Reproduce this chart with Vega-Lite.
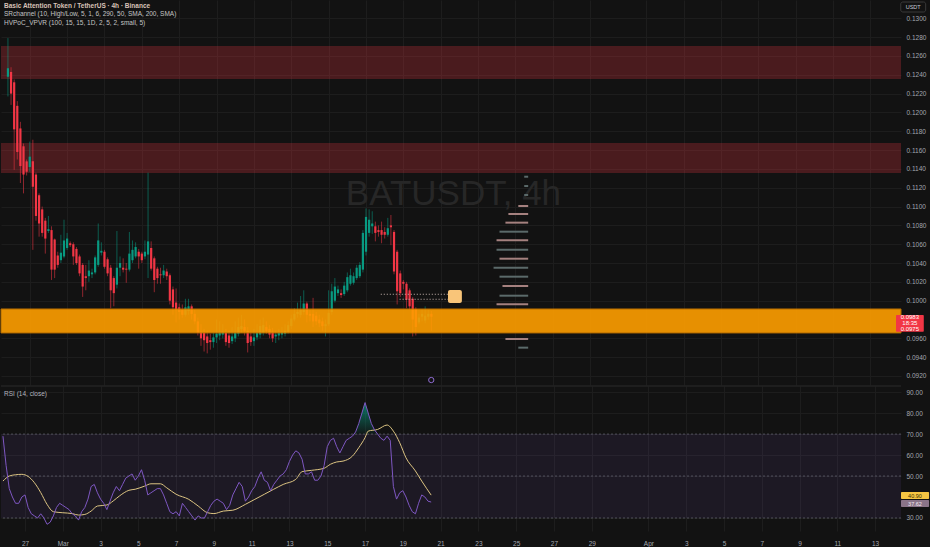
{
  "$schema": "https://vega.github.io/schema/vega-lite/v6.json",
  "background": "#121212",
  "padding": 0,
  "spacing": 0,
  "config": {
    "view": {"stroke": null},
    "axis": {"domain": false, "ticks": false, "tickSize": 0, "gridColor": "#1d1d1d", "gridWidth": 1, "labelColor": "#a3a6af", "labelFont": "Liberation Sans", "labelFontSize": 6.5, "labelOverlap": false, "labelFlush": false}
  },
  "datasets": {
    "candles": [
      {"t":"2025-02-25T20:00:00Z","o":0.1238,"h":0.1279,"l":0.1217,"c":0.1247,"r":69,"m":47.6},
      {"t":"2025-02-26T00:00:00Z","o":0.1243,"h":0.1248,"l":0.1208,"c":0.1220,"r":55},
      {"t":"2025-02-26T04:00:00Z","o":0.1232,"h":0.1235,"l":0.1139,"c":0.1182,"r":44,"m":50.0},
      {"t":"2025-02-26T08:00:00Z","o":0.1207,"h":0.1212,"l":0.1150,"c":0.1158,"r":40},
      {"t":"2025-02-26T12:00:00Z","o":0.1183,"h":0.1190,"l":0.1125,"c":0.1143,"r":37,"m":50.6},
      {"t":"2025-02-26T16:00:00Z","o":0.1164,"h":0.1167,"l":0.1114,"c":0.1134,"r":37},
      {"t":"2025-02-26T20:00:00Z","o":0.1148,"h":0.1150,"l":0.1133,"c":0.1137,"r":40,"m":50.8},
      {"t":"2025-02-27T00:00:00Z","o":0.1142,"h":0.1169,"l":0.1137,"c":0.1153,"r":41},
      {"t":"2025-02-27T04:00:00Z","o":0.1148,"h":0.1171,"l":0.1054,"c":0.1121,"r":35,"m":49.8},
      {"t":"2025-02-27T08:00:00Z","o":0.1134,"h":0.1136,"l":0.1085,"c":0.1090,"r":32},
      {"t":"2025-02-27T12:00:00Z","o":0.1112,"h":0.1114,"l":0.1068,"c":0.1082,"r":31,"m":46.8},
      {"t":"2025-02-27T16:00:00Z","o":0.1097,"h":0.1100,"l":0.1068,"c":0.1072,"r":30},
      {"t":"2025-02-27T20:00:00Z","o":0.1085,"h":0.1088,"l":0.1050,"c":0.1066,"r":32,"m":42.1},
      {"t":"2025-02-28T00:00:00Z","o":0.1074,"h":0.1090,"l":0.1072,"c":0.1076,"r":30},
      {"t":"2025-02-28T04:00:00Z","o":0.1075,"h":0.1079,"l":0.1022,"c":0.1033,"r":27,"m":36.5},
      {"t":"2025-02-28T08:00:00Z","o":0.1065,"h":0.1066,"l":0.1024,"c":0.1033,"r":28},
      {"t":"2025-02-28T12:00:00Z","o":0.1048,"h":0.1052,"l":0.1035,"c":0.1038,"r":31,"m":33.0},
      {"t":"2025-02-28T16:00:00Z","o":0.1043,"h":0.1070,"l":0.1040,"c":0.1051,"r":35},
      {"t":"2025-02-28T20:00:00Z","o":0.1047,"h":0.1086,"l":0.1045,"c":0.1064,"r":37},
      {"t":"2025-03-01T00:00:00Z","o":0.1056,"h":0.1072,"l":0.1054,"c":0.1066,"r":36,"m":32.5},
      {"t":"2025-03-01T04:00:00Z","o":0.1061,"h":0.1063,"l":0.1057,"c":0.1059,"r":35},
      {"t":"2025-03-01T08:00:00Z","o":0.1060,"h":0.1062,"l":0.1038,"c":0.1047,"r":34},
      {"t":"2025-03-01T12:00:00Z","o":0.1055,"h":0.1057,"l":0.1038,"c":0.1040,"r":32,"m":32.1},
      {"t":"2025-03-01T16:00:00Z","o":0.1047,"h":0.1049,"l":0.1026,"c":0.1029,"r":31},
      {"t":"2025-03-01T20:00:00Z","o":0.1038,"h":0.1040,"l":0.1004,"c":0.1015,"r":29,"m":31.4},
      {"t":"2025-03-02T00:00:00Z","o":0.1026,"h":0.1038,"l":0.1011,"c":0.1024,"r":33},
      {"t":"2025-03-02T04:00:00Z","o":0.1026,"h":0.1043,"l":0.1020,"c":0.1032,"r":35,"m":31.7},
      {"t":"2025-03-02T08:00:00Z","o":0.1028,"h":0.1034,"l":0.1024,"c":0.1030,"r":39},
      {"t":"2025-03-02T12:00:00Z","o":0.1030,"h":0.1048,"l":0.1028,"c":0.1046,"r":45,"m":33.3},
      {"t":"2025-03-02T16:00:00Z","o":0.1038,"h":0.1082,"l":0.1036,"c":0.1064,"r":46},
      {"t":"2025-03-02T20:00:00Z","o":0.1051,"h":0.1062,"l":0.1048,"c":0.1053,"r":42,"m":35.7},
      {"t":"2025-03-03T00:00:00Z","o":0.1052,"h":0.1054,"l":0.1034,"c":0.1036,"r":39},
      {"t":"2025-03-03T04:00:00Z","o":0.1044,"h":0.1046,"l":0.1026,"c":0.1029,"r":37},
      {"t":"2025-03-03T08:00:00Z","o":0.1035,"h":0.1038,"l":0.0992,"c":0.1011,"r":34,"m":36.2},
      {"t":"2025-03-03T12:00:00Z","o":0.1024,"h":0.1026,"l":0.0994,"c":0.1008,"r":38},
      {"t":"2025-03-03T16:00:00Z","o":0.1017,"h":0.1074,"l":0.1013,"c":0.1035,"r":42,"m":38.1},
      {"t":"2025-03-03T20:00:00Z","o":0.1035,"h":0.1047,"l":0.1026,"c":0.1040,"r":45},
      {"t":"2025-03-04T00:00:00Z","o":0.1035,"h":0.1045,"l":0.1030,"c":0.1033,"r":43,"m":40.5},
      {"t":"2025-03-04T04:00:00Z","o":0.1034,"h":0.1040,"l":0.1019,"c":0.1033,"r":46},
      {"t":"2025-03-04T08:00:00Z","o":0.1033,"h":0.1073,"l":0.1031,"c":0.1050,"r":49},
      {"t":"2025-03-04T12:00:00Z","o":0.1043,"h":0.1064,"l":0.1040,"c":0.1054,"r":50,"m":43.2},
      {"t":"2025-03-04T16:00:00Z","o":0.1047,"h":0.1062,"l":0.1045,"c":0.1057,"r":51},
      {"t":"2025-03-04T20:00:00Z","o":0.1052,"h":0.1055,"l":0.1034,"c":0.1047,"r":48,"m":43.7},
      {"t":"2025-03-05T00:00:00Z","o":0.1050,"h":0.1052,"l":0.1040,"c":0.1043,"r":50},
      {"t":"2025-03-05T04:00:00Z","o":0.1047,"h":0.1064,"l":0.1044,"c":0.1052,"r":53},
      {"t":"2025-03-05T08:00:00Z","o":0.1049,"h":0.1136,"l":0.1024,"c":0.1063,"r":48,"m":45.2},
      {"t":"2025-03-05T12:00:00Z","o":0.1056,"h":0.1063,"l":0.1032,"c":0.1034,"r":41},
      {"t":"2025-03-05T16:00:00Z","o":0.1045,"h":0.1047,"l":0.1009,"c":0.1022,"r":42,"m":46.3},
      {"t":"2025-03-05T20:00:00Z","o":0.1034,"h":0.1036,"l":0.1018,"c":0.1024,"r":43},
      {"t":"2025-03-06T00:00:00Z","o":0.1028,"h":0.1035,"l":0.1018,"c":0.1027,"r":44},
      {"t":"2025-03-06T04:00:00Z","o":0.1027,"h":0.1038,"l":0.1024,"c":0.1032,"r":44,"m":46.3},
      {"t":"2025-03-06T08:00:00Z","o":0.1031,"h":0.1034,"l":0.1022,"c":0.1026,"r":41},
      {"t":"2025-03-06T12:00:00Z","o":0.1027,"h":0.1029,"l":0.0996,"c":0.1000,"r":37,"m":44.4},
      {"t":"2025-03-06T16:00:00Z","o":0.1012,"h":0.1015,"l":0.0985,"c":0.0993,"r":33},
      {"t":"2025-03-06T20:00:00Z","o":0.0998,"h":0.1013,"l":0.0977,"c":0.0990,"r":32},
      {"t":"2025-03-07T00:00:00Z","o":0.0993,"h":0.0997,"l":0.0980,"c":0.0988,"r":33,"m":41.3},
      {"t":"2025-03-07T04:00:00Z","o":0.0990,"h":0.0996,"l":0.0982,"c":0.0985,"r":31},
      {"t":"2025-03-07T08:00:00Z","o":0.0985,"h":0.1002,"l":0.0983,"c":0.0993,"r":37},
      {"t":"2025-03-07T12:00:00Z","o":0.0989,"h":0.1002,"l":0.0985,"c":0.0994,"r":35},
      {"t":"2025-03-07T16:00:00Z","o":0.0994,"h":0.0996,"l":0.0980,"c":0.0986,"r":33,"m":38.9},
      {"t":"2025-03-07T20:00:00Z","o":0.0986,"h":0.0990,"l":0.0975,"c":0.0978,"r":31},
      {"t":"2025-03-08T00:00:00Z","o":0.0978,"h":0.0982,"l":0.0963,"c":0.0966,"r":29},
      {"t":"2025-03-08T04:00:00Z","o":0.0967,"h":0.0975,"l":0.0952,"c":0.0960,"r":31,"m":35.7},
      {"t":"2025-03-08T08:00:00Z","o":0.0966,"h":0.0970,"l":0.0946,"c":0.0958,"r":30},
      {"t":"2025-03-08T12:00:00Z","o":0.0962,"h":0.0968,"l":0.0944,"c":0.0955,"r":30},
      {"t":"2025-03-08T16:00:00Z","o":0.0958,"h":0.0965,"l":0.0948,"c":0.0956,"r":33,"m":32.5},
      {"t":"2025-03-08T20:00:00Z","o":0.0956,"h":0.0966,"l":0.0950,"c":0.0961,"r":36},
      {"t":"2025-03-09T00:00:00Z","o":0.0961,"h":0.0980,"l":0.0955,"c":0.0965,"r":38,"m":32.1},
      {"t":"2025-03-09T04:00:00Z","o":0.0963,"h":0.0978,"l":0.0958,"c":0.0966,"r":39},
      {"t":"2025-03-09T08:00:00Z","o":0.0964,"h":0.0975,"l":0.0960,"c":0.0967,"r":38},
      {"t":"2025-03-09T12:00:00Z","o":0.0966,"h":0.0970,"l":0.0952,"c":0.0956,"r":37,"m":33.3},
      {"t":"2025-03-09T16:00:00Z","o":0.0963,"h":0.0968,"l":0.0950,"c":0.0955,"r":34},
      {"t":"2025-03-09T20:00:00Z","o":0.0957,"h":0.0972,"l":0.0954,"c":0.0962,"r":36},
      {"t":"2025-03-10T00:00:00Z","o":0.0960,"h":0.0978,"l":0.0956,"c":0.0966,"r":41,"m":33.7},
      {"t":"2025-03-10T04:00:00Z","o":0.0965,"h":0.0982,"l":0.0962,"c":0.0972,"r":44},
      {"t":"2025-03-10T08:00:00Z","o":0.0970,"h":0.0985,"l":0.0966,"c":0.0973,"r":47},
      {"t":"2025-03-10T12:00:00Z","o":0.0972,"h":0.0980,"l":0.0963,"c":0.0968,"r":45},
      {"t":"2025-03-10T16:00:00Z","o":0.0968,"h":0.0972,"l":0.0945,"c":0.0955,"r":38,"m":36.5},
      {"t":"2025-03-10T20:00:00Z","o":0.0962,"h":0.0966,"l":0.0952,"c":0.0956,"r":40},
      {"t":"2025-03-11T00:00:00Z","o":0.0957,"h":0.0970,"l":0.0952,"c":0.0961,"r":43},
      {"t":"2025-03-11T04:00:00Z","o":0.0961,"h":0.0975,"l":0.0958,"c":0.0966,"r":45,"m":38.9},
      {"t":"2025-03-11T08:00:00Z","o":0.0964,"h":0.0980,"l":0.0960,"c":0.0973,"r":49},
      {"t":"2025-03-11T12:00:00Z","o":0.0966,"h":0.0982,"l":0.0963,"c":0.0974,"r":52},
      {"t":"2025-03-11T16:00:00Z","o":0.0972,"h":0.0978,"l":0.0965,"c":0.0968,"r":48,"m":41.3},
      {"t":"2025-03-11T20:00:00Z","o":0.0970,"h":0.0974,"l":0.0960,"c":0.0964,"r":47},
      {"t":"2025-03-12T00:00:00Z","o":0.0967,"h":0.0971,"l":0.0956,"c":0.0960,"r":43},
      {"t":"2025-03-12T04:00:00Z","o":0.0962,"h":0.0968,"l":0.0955,"c":0.0964,"r":46,"m":43.7},
      {"t":"2025-03-12T08:00:00Z","o":0.0963,"h":0.0970,"l":0.0958,"c":0.0966,"r":48},
      {"t":"2025-03-12T12:00:00Z","o":0.0964,"h":0.0972,"l":0.0960,"c":0.0967,"r":50},
      {"t":"2025-03-12T16:00:00Z","o":0.0965,"h":0.0975,"l":0.0962,"c":0.0968,"r":51,"m":46.0},
      {"t":"2025-03-12T20:00:00Z","o":0.0967,"h":0.0978,"l":0.0965,"c":0.0974,"r":53},
      {"t":"2025-03-13T00:00:00Z","o":0.0973,"h":0.0985,"l":0.0970,"c":0.0981,"r":57},
      {"t":"2025-03-13T04:00:00Z","o":0.0980,"h":0.0992,"l":0.0978,"c":0.0986,"r":60},
      {"t":"2025-03-13T08:00:00Z","o":0.0986,"h":0.0998,"l":0.0982,"c":0.0988,"r":62,"m":48.4},
      {"t":"2025-03-13T12:00:00Z","o":0.0985,"h":0.1005,"l":0.0982,"c":0.0990,"r":61},
      {"t":"2025-03-13T16:00:00Z","o":0.0988,"h":0.1011,"l":0.0985,"c":0.0997,"r":58,"m":52.1},
      {"t":"2025-03-13T20:00:00Z","o":0.0997,"h":0.0999,"l":0.0977,"c":0.0985,"r":51},
      {"t":"2025-03-14T00:00:00Z","o":0.0986,"h":0.0990,"l":0.0978,"c":0.0984,"r":51},
      {"t":"2025-03-14T04:00:00Z","o":0.0986,"h":0.1003,"l":0.0972,"c":0.0978,"r":52,"m":52.7},
      {"t":"2025-03-14T08:00:00Z","o":0.0984,"h":0.0988,"l":0.0974,"c":0.0978,"r":48},
      {"t":"2025-03-14T12:00:00Z","o":0.0980,"h":0.0985,"l":0.0972,"c":0.0976,"r":48},
      {"t":"2025-03-14T16:00:00Z","o":0.0978,"h":0.0982,"l":0.0968,"c":0.0973,"r":50},
      {"t":"2025-03-14T20:00:00Z","o":0.0973,"h":0.0980,"l":0.0962,"c":0.0975,"r":55,"m":53.7},
      {"t":"2025-03-15T00:00:00Z","o":0.0975,"h":0.1011,"l":0.0973,"c":0.0987,"r":64},
      {"t":"2025-03-15T04:00:00Z","o":0.0988,"h":0.1018,"l":0.0985,"c":0.1010,"r":67,"m":55.6},
      {"t":"2025-03-15T08:00:00Z","o":0.1000,"h":0.1024,"l":0.0998,"c":0.1015,"r":68},
      {"t":"2025-03-15T12:00:00Z","o":0.1008,"h":0.1016,"l":0.1005,"c":0.1012,"r":64,"m":56.7},
      {"t":"2025-03-15T16:00:00Z","o":0.1008,"h":0.1012,"l":0.1003,"c":0.1006,"r":61},
      {"t":"2025-03-15T20:00:00Z","o":0.1007,"h":0.1020,"l":0.1005,"c":0.1016,"r":64,"m":57.1},
      {"t":"2025-03-16T00:00:00Z","o":0.1011,"h":0.1030,"l":0.1009,"c":0.1025,"r":67},
      {"t":"2025-03-16T04:00:00Z","o":0.1018,"h":0.1034,"l":0.1016,"c":0.1027,"r":68},
      {"t":"2025-03-16T08:00:00Z","o":0.1019,"h":0.1030,"l":0.1017,"c":0.1026,"r":69,"m":59.5,"ob":70},
      {"t":"2025-03-16T12:00:00Z","o":0.1024,"h":0.1038,"l":0.1022,"c":0.1035,"r":71,"ob":71},
      {"t":"2025-03-16T16:00:00Z","o":0.1026,"h":0.1041,"l":0.1024,"c":0.1038,"r":75,"m":63.5,"ob":75},
      {"t":"2025-03-16T20:00:00Z","o":0.1033,"h":0.1075,"l":0.1030,"c":0.1072,"r":80,"ob":80},
      {"t":"2025-03-17T00:00:00Z","o":0.1052,"h":0.1098,"l":0.1048,"c":0.1089,"r":85,"m":68.3,"ob":85},
      {"t":"2025-03-17T04:00:00Z","o":0.1072,"h":0.1097,"l":0.1068,"c":0.1086,"r":80,"m":71.4,"ob":80},
      {"t":"2025-03-17T08:00:00Z","o":0.1079,"h":0.1095,"l":0.1071,"c":0.1082,"r":75,"ob":75},
      {"t":"2025-03-17T12:00:00Z","o":0.1079,"h":0.1084,"l":0.1063,"c":0.1072,"r":72,"ob":72},
      {"t":"2025-03-17T16:00:00Z","o":0.1075,"h":0.1080,"l":0.1068,"c":0.1073,"r":70,"m":72.2,"ob":70},
      {"t":"2025-03-17T20:00:00Z","o":0.1075,"h":0.1084,"l":0.1061,"c":0.1070,"r":68},
      {"t":"2025-03-18T00:00:00Z","o":0.1073,"h":0.1078,"l":0.1066,"c":0.1070,"r":67},
      {"t":"2025-03-18T04:00:00Z","o":0.1070,"h":0.1088,"l":0.1068,"c":0.1077,"r":69,"m":74.3},
      {"t":"2025-03-18T08:00:00Z","o":0.1080,"h":0.1091,"l":0.1059,"c":0.1078,"r":67},
      {"t":"2025-03-18T12:00:00Z","o":0.1073,"h":0.1075,"l":0.1028,"c":0.1031,"r":45,"m":71.4},
      {"t":"2025-03-18T16:00:00Z","o":0.1052,"h":0.1054,"l":0.0996,"c":0.1010,"r":39},
      {"t":"2025-03-18T20:00:00Z","o":0.1029,"h":0.1032,"l":0.1004,"c":0.1008,"r":42,"m":65.9},
      {"t":"2025-03-19T00:00:00Z","o":0.1020,"h":0.1022,"l":0.1012,"c":0.1018,"r":43},
      {"t":"2025-03-19T04:00:00Z","o":0.1018,"h":0.1020,"l":0.0992,"c":0.1001,"r":40,"m":58.7},
      {"t":"2025-03-19T08:00:00Z","o":0.1011,"h":0.1013,"l":0.0990,"c":0.0994,"r":36},
      {"t":"2025-03-19T12:00:00Z","o":0.1002,"h":0.1004,"l":0.0962,"c":0.0980,"r":33},
      {"t":"2025-03-19T16:00:00Z","o":0.0991,"h":0.0993,"l":0.0963,"c":0.0972,"r":32,"m":52.4},
      {"t":"2025-03-19T20:00:00Z","o":0.0977,"h":0.0986,"l":0.0975,"c":0.0982,"r":37},
      {"t":"2025-03-20T00:00:00Z","o":0.0983,"h":0.0991,"l":0.0978,"c":0.0986,"r":41,"m":47.6},
      {"t":"2025-03-20T04:00:00Z","o":0.0979,"h":0.0994,"l":0.0976,"c":0.0984,"r":40},
      {"t":"2025-03-20T08:00:00Z","o":0.0983,"h":0.0990,"l":0.0980,"c":0.0986,"r":38},
      {"t":"2025-03-20T12:00:00Z","o":0.0986,"h":0.0989,"l":0.0968,"c":0.0983,"r":37.6,"m":40.9}
    ],
    "zones": [
      {"p1":0.12706,"p2":0.12355,"kind":"resistance"},
      {"p1":0.11675,"p2":0.11357,"kind":"resistance"},
      {"p1":0.09912,"p2":0.09657,"kind":"support"}
    ],
    "vp": [
      {"p":0.11317,"from":"2025-03-25T11:15:00Z","to":"2025-03-25T16:20:00Z","side":"buy"},
      {"p":0.11218,"from":"2025-03-25T11:15:00Z","to":"2025-03-25T16:20:00Z","side":"buy"},
      {"p":0.11123,"from":"2025-03-25T11:15:00Z","to":"2025-03-25T16:20:00Z","side":"buy"},
      {"p":0.11006,"from":"2025-03-25T03:39:00Z","to":"2025-03-25T16:20:00Z","side":"sell"},
      {"p":0.10921,"from":"2025-03-24T14:56:00Z","to":"2025-03-25T16:20:00Z","side":"sell"},
      {"p":0.10829,"from":"2025-03-24T11:07:00Z","to":"2025-03-25T16:20:00Z","side":"sell"},
      {"p":0.10733,"from":"2025-03-24T03:29:00Z","to":"2025-03-25T16:20:00Z","side":"buy"},
      {"p":0.10642,"from":"2025-03-23T23:41:00Z","to":"2025-03-25T16:20:00Z","side":"sell"},
      {"p":0.10542,"from":"2025-03-23T23:41:00Z","to":"2025-03-25T16:20:00Z","side":"buy"},
      {"p":0.10446,"from":"2025-03-24T03:29:00Z","to":"2025-03-25T16:20:00Z","side":"sell"},
      {"p":0.10350,"from":"2025-03-23T19:52:00Z","to":"2025-03-25T16:20:00Z","side":"buy"},
      {"p":0.10255,"from":"2025-03-24T03:29:00Z","to":"2025-03-25T16:20:00Z","side":"buy"},
      {"p":0.10156,"from":"2025-03-24T07:18:00Z","to":"2025-03-25T16:20:00Z","side":"sell"},
      {"p":0.10053,"from":"2025-03-24T03:29:00Z","to":"2025-03-25T16:20:00Z","side":"buy"},
      {"p":0.09962,"from":"2025-03-23T23:41:00Z","to":"2025-03-25T16:20:00Z","side":"sell"},
      {"p":0.09593,"from":"2025-03-24T11:07:00Z","to":"2025-03-25T16:20:00Z","side":"sell"},
      {"p":0.09501,"from":"2025-03-25T03:39:00Z","to":"2025-03-25T16:20:00Z","side":"buy"}
    ],
    "levels": [
      {"from":"2025-03-17T19:00:00Z","to":"2025-03-21T09:20:00Z","p":0.10068},
      {"from":"2025-03-18T19:10:00Z","to":"2025-03-21T09:20:00Z","p":0.10015}
    ],
    "rsiLevels": [
      {"lvl":70},{"lvl":50},{"lvl":30}
    ]
  },
  "vconcat": [
    {
      "width": 900,
      "height": 385,
      "title": {
        "text": "Basic Attention Token / TetherUS · 4h · Binance",
        "subtitle": ["SRchannel (10, High/Low, 5, 1, 6, 290, 50, SMA, 200, SMA)", "HVPoC_VPVR (100, 15, 15, 1D, 2, 5, 2, small, 5)"],
        "anchor": "start", "frame": "group", "orient": "top", "offset": -26, "dx": 3,
        "font": "Liberation Sans", "fontSize": 6.5, "fontWeight": "bold", "color": "#d8c3b8",
        "subtitleFont": "Liberation Sans", "subtitleFontSize": 6.5, "subtitleColor": "#c4c4c4", "subtitlePadding": 1.5
      },
      "layer": [
        {
          "data": {"values": [{"label": "BATUSDT, 4h"}]},
          "mark": {"type": "text", "font": "Liberation Sans", "fontSize": 35, "color": "#272727", "align": "center", "baseline": "alphabetic"},
          "encoding": {
            "text": {"field": "label"},
            "x": {"datum": {"year": 2025, "month": 3, "date": 21, "hours": 16, "minutes": 20, "utc": true}, "type": "temporal", "title": null},
            "y": {"datum": 0.11017, "type": "quantitative", "title": null}
          }
        },
        {
          "data": {"name": "zones"},
          "transform": [{"filter": "datum.kind == 'resistance'"}],
          "mark": {"type": "rect", "color": "#f23645", "opacity": 0.25},
          "encoding": {
            "y": {"field": "p1", "type": "quantitative", "title": null},
            "y2": {"field": "p2"}
          }
        },
        {
          "data": {"name": "candles"},
          "mark": {"type": "rule", "strokeWidth": 1, "opacity": 0.55},
          "encoding": {
            "x": {"field": "t", "type": "temporal", "title": null,
                  "scale": {"type": "utc", "domain": [{"year": 2025, "month": 2, "date": 25, "hours": 17, "minutes": 30, "utc": true}, {"year": 2025, "month": 4, "date": 14, "hours": 8, "minutes": 53, "utc": true}]},
                  "axis": {"labels": false, "grid": true, "tickCount": 100, "values": [
                    {"year":2025,"month":2,"date":27,"utc":true},{"year":2025,"month":3,"date":1,"utc":true},{"year":2025,"month":3,"date":3,"utc":true},{"year":2025,"month":3,"date":5,"utc":true},{"year":2025,"month":3,"date":7,"utc":true},{"year":2025,"month":3,"date":9,"utc":true},{"year":2025,"month":3,"date":11,"utc":true},{"year":2025,"month":3,"date":13,"utc":true},{"year":2025,"month":3,"date":15,"utc":true},{"year":2025,"month":3,"date":17,"utc":true},{"year":2025,"month":3,"date":19,"utc":true},{"year":2025,"month":3,"date":21,"utc":true},{"year":2025,"month":3,"date":23,"utc":true},{"year":2025,"month":3,"date":25,"utc":true},{"year":2025,"month":3,"date":27,"utc":true},{"year":2025,"month":3,"date":29,"utc":true},{"year":2025,"month":4,"date":1,"utc":true},{"year":2025,"month":4,"date":3,"utc":true},{"year":2025,"month":4,"date":5,"utc":true},{"year":2025,"month":4,"date":7,"utc":true},{"year":2025,"month":4,"date":9,"utc":true},{"year":2025,"month":4,"date":11,"utc":true},{"year":2025,"month":4,"date":13,"utc":true}]}},
            "y": {"field": "l", "type": "quantitative", "title": null,
                  "scale": {"domain": [0.091042, 0.131944], "nice": false, "zero": false},
                  "axis": {"orient": "right", "grid": true, "labelPadding": 5, "format": ".4f", "tickCount": 100,
                           "values": [0.092, 0.094, 0.096, 0.100, 0.102, 0.104, 0.106, 0.108, 0.110, 0.112, 0.114, 0.116, 0.118, 0.120, 0.122, 0.124, 0.126, 0.128, 0.130]}},
            "y2": {"field": "h"},
            "color": {"condition": {"test": "datum.c >= datum.o", "value": "#089981"}, "value": "#f23645"}
          }
        },
        {
          "data": {"name": "candles"},
          "mark": {"type": "bar", "width": 2.2},
          "encoding": {
            "x": {"field": "t", "type": "temporal", "title": null},
            "y": {"field": "o", "type": "quantitative", "title": null},
            "y2": {"field": "c"},
            "color": {"condition": {"test": "datum.c >= datum.o", "value": "#089981"}, "value": "#f23645"}
          }
        },
        {
          "data": {"name": "zones"},
          "transform": [{"filter": "datum.kind == 'support'"}],
          "mark": {"type": "rect", "color": "#ff9e00", "opacity": 0.9, "stroke": "#c27400", "strokeWidth": 1},
          "encoding": {
            "y": {"field": "p1", "type": "quantitative", "title": null},
            "y2": {"field": "p2"}
          }
        },
        {
          "data": {"name": "levels"},
          "mark": {"type": "rule", "color": "#c9b6b0", "strokeDash": [1, 2], "strokeWidth": 1},
          "encoding": {
            "x": {"field": "from", "type": "temporal", "title": null},
            "x2": {"field": "to"},
            "y": {"field": "p", "type": "quantitative", "title": null}
          }
        },
        {
          "data": {"values": [{"from": "2025-03-21T09:20:00Z", "to": "2025-03-22T03:10:00Z", "p1": 0.10114, "p2": 0.09975}]},
          "mark": {"type": "rect", "color": "#f9c579", "cornerRadius": 2},
          "encoding": {
            "x": {"field": "from", "type": "temporal", "title": null},
            "x2": {"field": "to"},
            "y": {"field": "p1", "type": "quantitative", "title": null},
            "y2": {"field": "p2"}
          }
        },
        {
          "data": {"name": "vp"},
          "mark": {"type": "rule", "strokeWidth": 2},
          "encoding": {
            "x": {"field": "from", "type": "temporal", "title": null},
            "x2": {"field": "to"},
            "y": {"field": "p", "type": "quantitative", "title": null},
            "color": {"field": "side", "type": "nominal", "scale": {"domain": ["buy", "sell"], "range": ["#5b6a6a", "#a5817f"]}, "legend": null}
          }
        },
        {
          "data": {"values": [{"t": "2025-03-20T11:50:00Z", "p": 0.09157}]},
          "mark": {"type": "point", "shape": "circle", "size": 28, "filled": true, "fill": "#121212", "stroke": "#8e6bd0", "strokeWidth": 1, "opacity": 1},
          "encoding": {
            "x": {"field": "t", "type": "temporal", "title": null},
            "y": {"field": "p", "type": "quantitative", "title": null}
          }
        },
        {
          "data": {"values": [{"p1": 0.09848, "p2": 0.09670}]},
          "mark": {"type": "rect", "color": "#f23645", "clip": false, "cornerRadius": 1},
          "encoding": {
            "x": {"datum": {"year": 2025, "month": 4, "date": 14, "hours": 8, "minutes": 53, "utc": true}, "type": "temporal", "title": null},
            "x2": {"datum": {"year": 2025, "month": 4, "date": 15, "hours": 20, "minutes": 35, "utc": true}},
            "y": {"field": "p1", "type": "quantitative", "title": null},
            "y2": {"field": "p2"}
          }
        },
        {
          "data": {"values": [{"txt": "0.0983", "p": 0.09830}, {"txt": "18:35", "p": 0.09767}, {"txt": "0.0975", "p": 0.09696}]},
          "mark": {"type": "text", "clip": false, "color": "#ffffff", "font": "Liberation Sans", "fontSize": 6, "align": "center", "baseline": "middle"},
          "encoding": {
            "text": {"field": "txt"},
            "x": {"datum": {"year": 2025, "month": 4, "date": 15, "hours": 2, "minutes": 40, "utc": true}, "type": "temporal", "title": null},
            "y": {"field": "p", "type": "quantitative", "title": null}
          }
        },
        {
          "data": {"values": [{"p1": 0.13173, "p2": 0.13067}]},
          "mark": {"type": "rect", "color": "#121212", "stroke": "#3a3a3a", "strokeWidth": 1, "cornerRadius": 2, "clip": false},
          "encoding": {
            "x": {"datum": {"year": 2025, "month": 4, "date": 14, "hours": 15, "minutes": 0, "utc": true}, "type": "temporal", "title": null},
            "x2": {"datum": {"year": 2025, "month": 4, "date": 15, "hours": 23, "minutes": 0, "utc": true}},
            "y": {"field": "p1", "type": "quantitative", "title": null},
            "y2": {"field": "p2"}
          }
        },
        {
          "data": {"values": [{"txt": "USDT", "p": 0.1312}]},
          "mark": {"type": "text", "clip": false, "color": "#c8cbd2", "font": "Liberation Sans", "fontSize": 5.5, "align": "center", "baseline": "middle"},
          "encoding": {
            "text": {"field": "txt"},
            "x": {"datum": {"year": 2025, "month": 4, "date": 15, "hours": 7, "minutes": 0, "utc": true}, "type": "temporal", "title": null},
            "y": {"field": "p", "type": "quantitative", "title": null}
          }
        }
      ]
    },
    {
      "width": 900,
      "height": 145,
      "title": {
        "text": "RSI (14, close)", "anchor": "start", "frame": "group", "orient": "top", "offset": -12, "dx": 3,
        "font": "Liberation Sans", "fontSize": 6.5, "fontWeight": "normal", "color": "#b2b5be"
      },
      "layer": [
        {
          "data": {"values": [{"hi": 70, "lo": 30}]},
          "mark": {"type": "rect", "color": "#7e57c2", "opacity": 0.1},
          "encoding": {
            "y": {"field": "hi", "type": "quantitative", "title": null},
            "y2": {"field": "lo"}
          }
        },
        {
          "data": {"name": "rsiLevels"},
          "mark": {"type": "rule", "color": "#787b86", "strokeDash": [2, 2], "strokeWidth": 1, "opacity": 0.55},
          "encoding": {
            "y": {"field": "lvl", "type": "quantitative", "title": null}
          }
        },
        {
          "data": {"values": [{"lvl": 92.9}]},
          "mark": {"type": "rule", "color": "#2a2a2a", "strokeWidth": 1},
          "encoding": {
            "y": {"field": "lvl", "type": "quantitative", "title": null}
          }
        },
        {
          "data": {"name": "candles"},
          "transform": [{"filter": "isValid(datum.ob)"}],
          "mark": {"type": "area", "color": {"gradient": "linear", "x1": 0, "y1": 0, "x2": 0, "y2": 1, "stops": [{"offset": 0, "color": "rgba(8,153,129,0.75)"}, {"offset": 1, "color": "rgba(8,153,129,0.05)"}]}},
          "encoding": {
            "x": {"field": "t", "type": "temporal", "title": null},
            "y": {"field": "ob", "type": "quantitative", "title": null},
            "y2": {"datum": 70}
          }
        },
        {
          "data": {"name": "candles"},
          "transform": [{"filter": "isValid(datum.m)"}],
          "mark": {"type": "line", "color": "#dcc482", "strokeWidth": 1, "interpolate": "monotone"},
          "encoding": {
            "x": {"field": "t", "type": "temporal", "title": null},
            "y": {"field": "m", "type": "quantitative", "title": null}
          }
        },
        {
          "data": {"name": "candles"},
          "mark": {"type": "line", "color": "#7e57c2", "strokeWidth": 1},
          "encoding": {
            "x": {"field": "t", "type": "temporal", "title": null,
                  "scale": {"type": "utc", "domain": [{"year": 2025, "month": 2, "date": 25, "hours": 17, "minutes": 30, "utc": true}, {"year": 2025, "month": 4, "date": 14, "hours": 8, "minutes": 53, "utc": true}]},
                  "axis": {"grid": true, "labelPadding": 9, "labelFontSize": 6.5, "tickCount": 100,
                           "labelExpr": "utcdate(datum.value) == 1 ? utcFormat(datum.value, '%b') : utcFormat(datum.value, '%-d')",
                           "values": [
                    {"year":2025,"month":2,"date":27,"utc":true},{"year":2025,"month":3,"date":1,"utc":true},{"year":2025,"month":3,"date":3,"utc":true},{"year":2025,"month":3,"date":5,"utc":true},{"year":2025,"month":3,"date":7,"utc":true},{"year":2025,"month":3,"date":9,"utc":true},{"year":2025,"month":3,"date":11,"utc":true},{"year":2025,"month":3,"date":13,"utc":true},{"year":2025,"month":3,"date":15,"utc":true},{"year":2025,"month":3,"date":17,"utc":true},{"year":2025,"month":3,"date":19,"utc":true},{"year":2025,"month":3,"date":21,"utc":true},{"year":2025,"month":3,"date":23,"utc":true},{"year":2025,"month":3,"date":25,"utc":true},{"year":2025,"month":3,"date":27,"utc":true},{"year":2025,"month":3,"date":29,"utc":true},{"year":2025,"month":4,"date":1,"utc":true},{"year":2025,"month":4,"date":3,"utc":true},{"year":2025,"month":4,"date":5,"utc":true},{"year":2025,"month":4,"date":7,"utc":true},{"year":2025,"month":4,"date":9,"utc":true},{"year":2025,"month":4,"date":11,"utc":true},{"year":2025,"month":4,"date":13,"utc":true}]}},
            "y": {"field": "r", "type": "quantitative", "title": null,
                  "scale": {"domain": [23.8, 92.9], "nice": false, "zero": false},
                  "axis": {"orient": "right", "grid": true, "labelPadding": 5, "format": ".2f", "tickCount": 100, "values": [30, 50, 60, 70, 80, 90]}}
          }
        },
        {
          "data": {"values": [{"hi": 42.4, "lo": 39.0}]},
          "mark": {"type": "rect", "clip": false, "cornerRadius": 1, "color": "#f5c542"},
          "encoding": {
            "x": {"datum": {"year": 2025, "month": 4, "date": 14, "hours": 8, "minutes": 53, "utc": true}, "type": "temporal", "title": null},
            "x2": {"datum": {"year": 2025, "month": 4, "date": 15, "hours": 20, "minutes": 35, "utc": true}},
            "y": {"field": "hi", "type": "quantitative", "title": null},
            "y2": {"field": "lo"}
          }
        },
        {
          "data": {"values": [{"hi": 38.6, "lo": 35.2}]},
          "mark": {"type": "rect", "clip": false, "cornerRadius": 1, "color": "#8a7488"},
          "encoding": {
            "x": {"datum": {"year": 2025, "month": 4, "date": 14, "hours": 8, "minutes": 53, "utc": true}, "type": "temporal", "title": null},
            "x2": {"datum": {"year": 2025, "month": 4, "date": 15, "hours": 20, "minutes": 35, "utc": true}},
            "y": {"field": "hi", "type": "quantitative", "title": null},
            "y2": {"field": "lo"}
          }
        },
        {
          "data": {"values": [{"txt": "40.90", "v": 40.7}]},
          "mark": {"type": "text", "clip": false, "font": "Liberation Sans", "fontSize": 5.5, "align": "center", "baseline": "middle", "color": "#3a2f00"},
          "encoding": {
            "text": {"field": "txt"},
            "x": {"datum": {"year": 2025, "month": 4, "date": 15, "hours": 2, "minutes": 40, "utc": true}, "type": "temporal", "title": null},
            "y": {"field": "v", "type": "quantitative", "title": null}
          }
        },
        {
          "data": {"values": [{"txt": "37.62", "v": 36.9}]},
          "mark": {"type": "text", "clip": false, "font": "Liberation Sans", "fontSize": 5.5, "align": "center", "baseline": "middle", "color": "#f0e6ee"},
          "encoding": {
            "text": {"field": "txt"},
            "x": {"datum": {"year": 2025, "month": 4, "date": 15, "hours": 2, "minutes": 40, "utc": true}, "type": "temporal", "title": null},
            "y": {"field": "v", "type": "quantitative", "title": null}
          }
        }
      ]
    }
  ]
}
